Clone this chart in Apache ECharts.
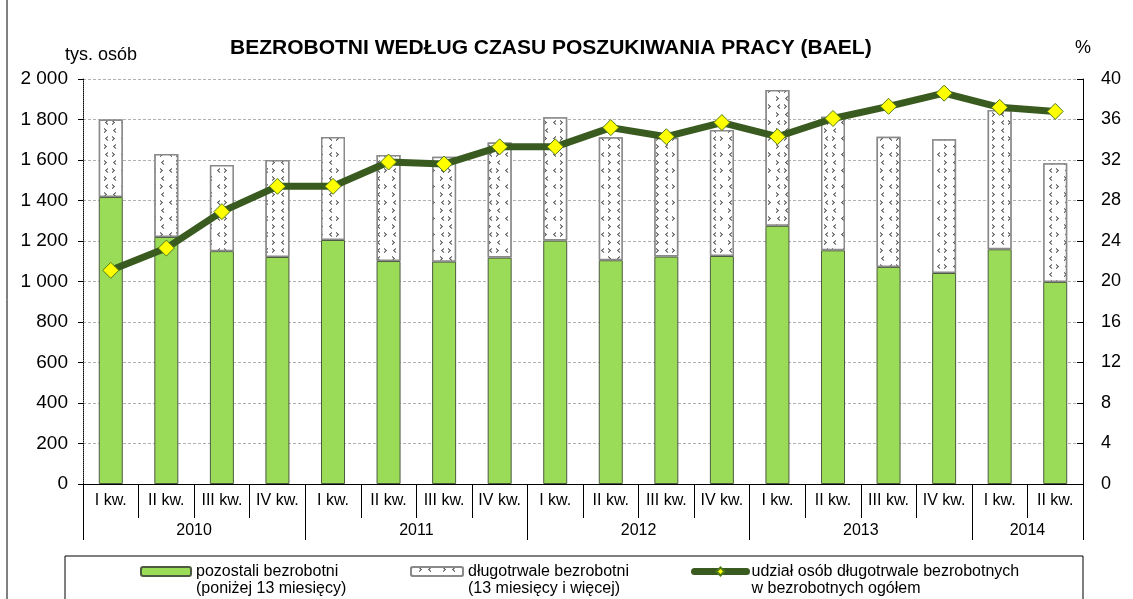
<!DOCTYPE html>
<html><head><meta charset="utf-8">
<script src="https://cdn.jsdelivr.net/npm/echarts@6/dist/echarts.min.js"></script>
<style>html,body{margin:0;padding:0;background:#fff}#c{width:1133px;height:599px}</style>
</head><body><div id="c"></div>
<script>
var quarters = ['I kw.','II kw.','III kw.','IV kw.','I kw.','II kw.','III kw.','IV kw.','I kw.','II kw.','III kw.','IV kw.','I kw.','II kw.','III kw.','IV kw.','I kw.','II kw.'];
var years = ['2010','2011','2012','2013','2014'];
var yearSpans = [4,4,4,4,2];
var shortTerm = [1417,1220,1150,1121,1205,1101,1098,1118,1202,1105,1123,1126,1275,1154,1072,1042,1159,998];
var longTerm = [383,410,425,479,509,524,518,568,609,607,587,622,671,660,643,660,688,586];
var longShare = [21.1,23.3,26.9,29.4,29.4,31.8,31.6,33.3,33.3,35.2,34.3,35.7,34.3,36.1,37.3,38.6,37.2,36.8];
var names = ['pozostali bezrobotni\n(poniżej 13 miesięcy)','długotrwale bezrobotni\n(13 miesięcy i więcej)','udział osób długotrwale bezrobotnych\nw bezrobotnych ogółem'];

var yearBounds = [0], yearCenters = [], acc = 0;
yearSpans.forEach(function(s){ yearCenters.push(acc + s/2); acc += s; yearBounds.push(acc); });

var FONT = 'Liberation Sans, Arial, sans-serif';
var chart = echarts.init(document.getElementById('c'));
function fmtThousands(v){ return String(v).replace(/\B(?=(\d{3})+$)/g,' '); }
var legendText = {fontFamily: FONT, fontSize: 16, color: '#000', lineHeight: 17};
function legendFmt(n){ return ' \n' + n; }

chart.setOption({
  backgroundColor: '#fff',
  animation: false,
  textStyle: {fontFamily: FONT, color: '#000'},
  title: {
    text: 'BEZROBOTNI WEDŁUG CZASU POSZUKIWANIA PRACY (BAEL)',
    left: 225, top: 33,
    textStyle: {fontFamily: FONT, fontSize: 21, fontWeight: 'bold', color: '#000'}
  },
  grid: {left: 83, right: 50, top: 79, bottom: 115},
  legend: [
    {data: [names[0]], left: 135, top: 541, itemWidth: 50, itemHeight: 9, itemGap: 0, textStyle: legendText, formatter: legendFmt},
    {data: [names[1]], left: 405, top: 541, itemWidth: 52, itemHeight: 9, itemGap: 0, textStyle: legendText, formatter: legendFmt},
    {data: [names[2]], left: 686, top: 541, itemWidth: 52, itemHeight: 10, itemGap: 0, textStyle: legendText, formatter: legendFmt,
     lineStyle: {width: 7, cap: 'round'}}
  ],
  graphic: [
    {type: 'rect', shape: {x: 65, y: 556, width: 1018, height: 70}, style: {fill: 'none', stroke: '#000', lineWidth: 1}, silent: true},
    {type: 'line', shape: {x1: 7, y1: 0, x2: 7, y2: 599}, style: {stroke: '#000', lineWidth: 1}, silent: true}
  ],
  xAxis: [
    {type: 'category', data: quarters, position: 'bottom', boundaryGap: true,
     axisLine: {show: true, lineStyle: {color: '#000', width: 1}},
     axisTick: {show: true, interval: 0, length: 34, lineStyle: {color: '#000'}},
     axisLabel: {interval: 0, fontFamily: FONT, fontSize: 16, color: '#000', margin: 9}},
    {type: 'value', min: 0, max: quarters.length, position: 'bottom',
     axisLine: {show: false}, splitLine: {show: false},
     axisTick: {show: true, customValues: yearBounds, length: 56, lineStyle: {color: '#000'}},
     axisLabel: {customValues: yearCenters, fontFamily: FONT, fontSize: 16, color: '#000', margin: 39,
       formatter: function(v){ var i = yearCenters.indexOf(v); return i >= 0 ? years[i] : ''; }}}
  ],
  yAxis: [
    {type: 'value', min: 0, max: 2000, interval: 200, position: 'left',
     name: 'tys. osób', nameLocation: 'end', nameGap: 15,
     nameTextStyle: {fontFamily: FONT, fontSize: 18, color: '#000', padding: [0,0,0,36]},
     axisLine: {show: true, lineStyle: {color: '#000', type: 'dotted', width: 1}},
     axisTick: {show: true, inside: false, length: 5, lineStyle: {color: '#000'}},
     axisLabel: {fontFamily: FONT, fontSize: 19, color: '#000', margin: 15, formatter: fmtThousands},
     splitLine: {show: true, lineStyle: {color: '#b0b0b0', type: [3,2], width: 1}}},
    {type: 'value', min: 0, max: 40, interval: 4, position: 'right',
     name: '%', nameLocation: 'end', nameGap: 22,
     nameTextStyle: {fontFamily: FONT, fontSize: 18, color: '#000'},
     axisLine: {show: true, lineStyle: {color: '#000', width: 1}},
     axisTick: {show: true, inside: true, length: 6, lineStyle: {color: '#000'}},
     axisLabel: {fontFamily: FONT, fontSize: 18, color: '#000', margin: 18},
     splitLine: {show: false}}
  ],
  series: [
    {name: names[0], type: 'bar', stack: 'total', data: shortTerm, barWidth: 24,
     itemStyle: {color: '#9ADB58', borderColor: '#4d5a40', borderWidth: 1}},
    {name: names[1], type: 'bar', stack: 'total', data: longTerm, barWidth: 24,
     itemStyle: {color: '#ffffff', borderColor: '#8a8a8a', borderWidth: 1.5,
       decal: {color: '#222', backgroundColor: '#fff',
         symbol: 'path://M0,0L3,2.5L0,5L0,4L1.8,2.5L0,1ZM12,0L9,2.5L12,5L12,4L10.2,2.5L12,1Z',
         symbolSize: 1, dashArrayX: [[12,4],[0,8,12,4,0,0]], dashArrayY: [5,3], rotation: 0}}},
    {name: names[2], type: 'line', yAxisIndex: 1, data: longShare, z: 5,
     symbol: 'diamond', symbolSize: 16,
     lineStyle: {color: '#3A5B1F', width: 7},
     itemStyle: {color: '#FFFF00', borderColor: '#4f7a1a', borderWidth: 1}}
  ]
});
</script></body></html>
